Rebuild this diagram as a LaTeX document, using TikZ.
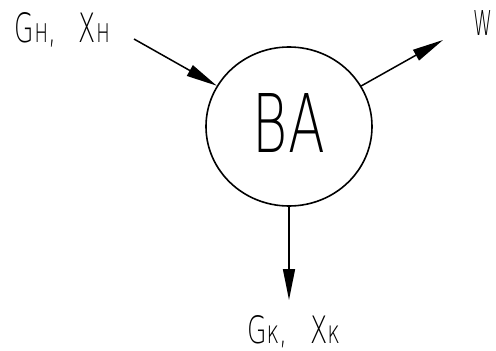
\documentclass[tikz,border=0pt]{standalone}
\usepackage{fontspec}
\usepackage{graphicx}
\newfontfamily\gost{DejaVuSans-ExtraLight.ttf}
\usetikzlibrary{arrows.meta,shapes.geometric}
\newcommand{\subsm}[1]{{\fontsize{8.5}{10}\selectfont #1}}
\begin{document}
\begin{tikzpicture}[x=1pt,y=-1pt,
  flow/.style={line width=1.5pt,-{Triangle[length=31pt,width=12pt]}},
  lbl/.style={inner sep=0pt,outer sep=0pt}]
\useasboundingbox (0,0) rectangle (496,351);
\node[draw,ellipse,line width=1.6pt,minimum width=166pt,minimum height=159pt,inner sep=0pt] (va) at (289,126.5) {};
\node[lbl] (valbl) at (289,122.5) {\resizebox{72pt}{59pt}{\gost ВА}};
\node[lbl,anchor=north west] (gin) at (15,12.7) {\resizebox{95pt}{30pt}{\gost G\subsm{н},\hspace{0.9em}X\subsm{н}}};
\node[lbl,anchor=north east] (wl) at (492,10) {\resizebox{19pt}{25pt}{\gost W}};
\node[lbl,anchor=north west] (gout) at (247,315) {\resizebox{93pt}{28pt}{\gost G\subsm{к},\hspace{0.9em}X\subsm{к}}};
\coordinate (inS) at (134,39);
\coordinate (wE) at (443,40);
\coordinate (outE) at (289,300);
\draw[flow] (inS) -- (va);
\draw[flow] (va) -- (wE);
\draw[flow] (va) -- (outE);
\end{tikzpicture}
\end{document}
